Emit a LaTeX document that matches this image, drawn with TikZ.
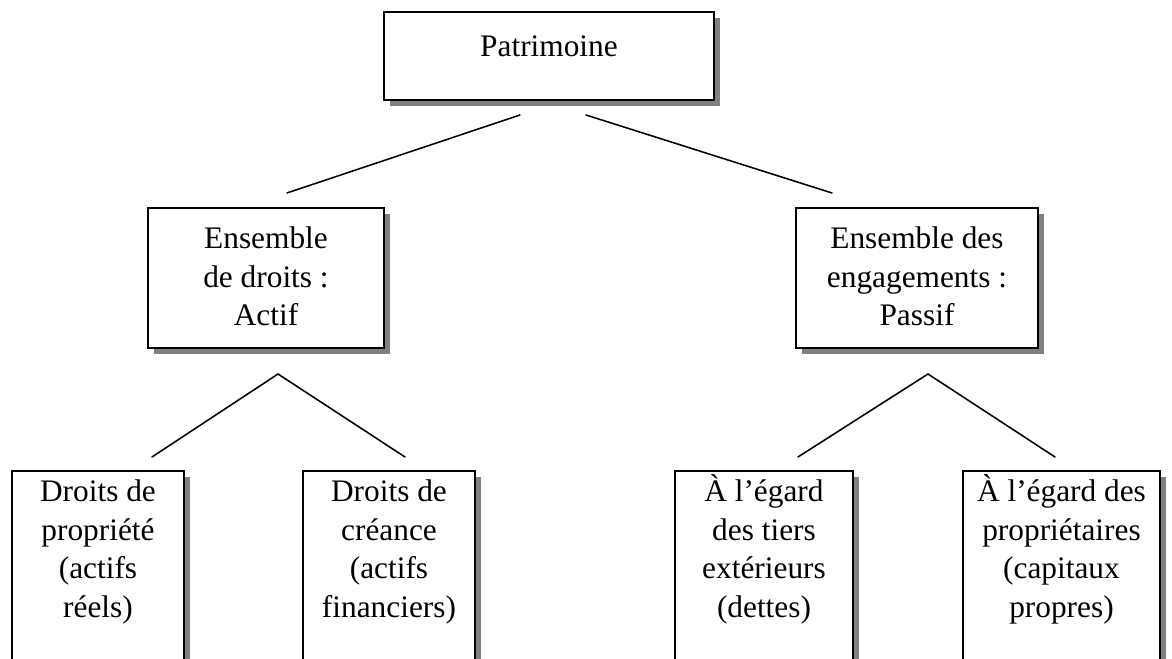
\documentclass[tikz,border=0pt]{standalone}
\usepackage{fontspec}
\setmainfont{Liberation Serif}
\usetikzlibrary{shadows,fit}
% fixed height for the first line of every caption
\newcommand\firstline{\rule{0pt}{11pt}}
\begin{document}
\begin{tikzpicture}[x=0.3509pt,y=-0.3509pt,
  box/.style={draw=black, line width=0.7pt, fill=white, inner sep=0pt,
    drop shadow={shadow xshift=2.1pt, shadow yshift=-2.1pt, fill=black!50, opacity=1}},
  txt/.style={anchor=north, inner sep=0pt, align=center,
    font=\fontsize{11pt}{13.6pt}\selectfont},
  link/.style={line width=0.55pt, line cap=round}]
\useasboundingbox (0,0) rectangle (1172,659);
\clip (0,0) rectangle (1172,659);

% boxes
\node[box, fit={(384,12) (714,100)}] (pat) {};
\node[box, fit={(148,208) (384,348)}] (actif) {};
\node[box, fit={(796,208) (1038,348)}] (passif) {};
\node[box, fit={(12,471) (184,700)}] (prop) {};
\node[box, fit={(303,471) (475,700)}] (crea) {};
\node[box, fit={(675,471) (853,700)}] (tiers) {};
\node[box, fit={(963,471) (1160,700)}] (capi) {};

% captions
\node[txt] (tpat) at (pat.north |- 0,24.5) {\firstline Patrimoine};
\node[txt] (tactif) at (actif.north |- 0,216.5) {\firstline Ensemble\\de droits :\\Actif};
\node[txt] (tpassif) at (passif.north |- 0,216.5) {\firstline Ensemble des\\engagements :\\Passif};
\node[txt] (tprop) at (prop.north |- 0,469.5) {\firstline Droits de\\propriété\\(actifs\\réels)};
\node[txt] (tcrea) at (crea.north |- 0,469.5) {\firstline Droits de\\créance\\(actifs\\financiers)};
\node[txt] (ttiers) at (tiers.north |- 0,469.5) {\firstline À l’égard\\des tiers\\extérieurs\\(dettes)};
\node[txt] (tcapi) at (capi.north |- 0,469.5) {\firstline À l’égard des\\propriétaires\\(capitaux\\propres)};

% free ends of the branches
\coordinate (patL) at (520,115);
\coordinate (patR) at (586,115);
\coordinate (actifIn) at (287,193);
\coordinate (passifIn) at (832,193);
\coordinate (actifApex) at (278,374);
\coordinate (propIn) at (152,457);
\coordinate (creaIn) at (405,457);
\coordinate (passifApex) at (928,374);
\coordinate (tiersIn) at (798,457);
\coordinate (capiIn) at (1055,457);

% branches
\draw[link] (patL) -- (actifIn);
\draw[link] (patR) -- (passifIn);
\draw[link] (propIn) -- (actifApex) -- (creaIn);
\draw[link] (tiersIn) -- (passifApex) -- (capiIn);
\end{tikzpicture}
\end{document}
